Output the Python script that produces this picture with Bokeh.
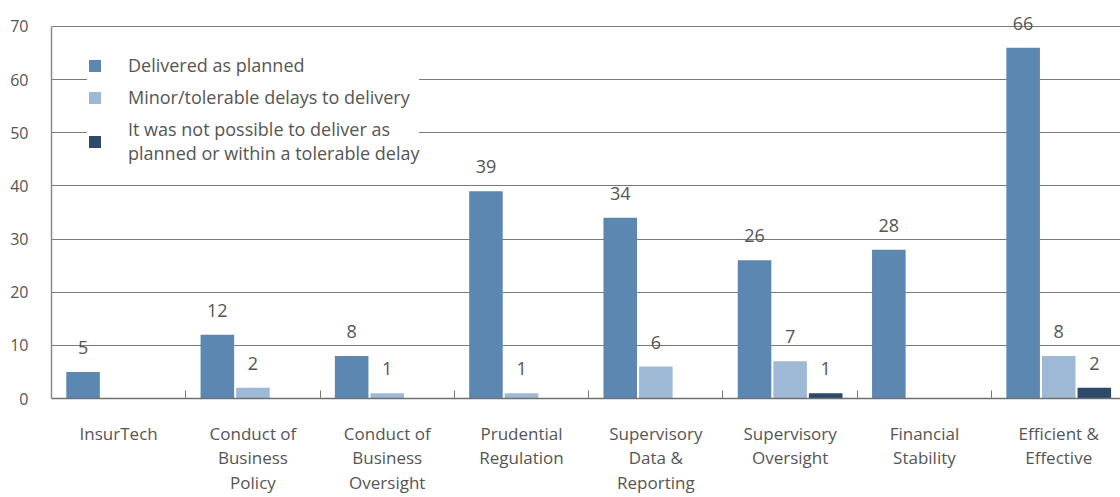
from bokeh.plotting import figure
from bokeh.models import ColumnDataSource, Range1d, FixedTicker, Legend, LegendItem, LabelSet
from bokeh.core.properties import value
from bokeh.embed import file_html
from bokeh.resources import INLINE

categories = ["InsurTech", "Conduct of\nBusiness\nPolicy", "Conduct of\nBusiness\nOversight",
              "Prudential\nRegulation", "Supervisory\nData &\nReporting", "Supervisory\nOversight",
              "Financial\nStability", "Efficient &\nEffective"]
delivered = [5, 12, 8, 39, 34, 26, 28, 66]
minor_delays = [0, 2, 1, 1, 6, 7, 0, 8]
not_possible = [0, 0, 0, 0, 0, 1, 0, 2]
series_names = ["Delivered as planned", "Minor/tolerable delays to delivery",
                "It was not possible to deliver as\nplanned or within a tolerable delay"]
y_ticks = [0, 10, 20, 30, 40, 50, 60, 70]

colors = ["#5b87b1", "#9db9d6", "#2d4a6b"]
offsets = [-0.265, 0.0, 0.265]
FONT = "Open Sans"
TXT = "#555555"

p = figure(width=1120, height=497, output_backend="svg", toolbar_location=None,
           x_range=Range1d(0, 7.96), y_range=Range1d(0, 73),
           min_border_left=51, min_border_right=0, min_border_top=10, min_border_bottom=98)
p.outline_line_color = None
p.background_fill_color = "white"

renderers = []
for vals, col, off in zip([delivered, minor_delays, not_possible], colors, offsets):
    xs = [i + 0.5 + off for i in range(len(categories))]
    src = ColumnDataSource(dict(x=xs, top=vals))
    r = p.vbar(x="x", top="top", width=0.25, bottom=0, source=src,
               fill_color=col, line_color=None)
    renderers.append(r)
    lx = [x for x, v in zip(xs, vals) if v > 0]
    ly = [v for v in vals if v > 0]
    lsrc = ColumnDataSource(dict(x=lx, y=ly, t=[str(v) for v in ly]))
    p.add_layout(LabelSet(x="x", y="y", text="t", source=lsrc, y_offset=18,
                          text_align="center", text_baseline="alphabetic",
                          text_font=value(FONT), text_font_size="18px", text_color=TXT))

# x axis
centers = [i + 0.5 for i in range(len(categories))]
bounds = [i + 1 for i in range(len(categories) - 1)]
p.xaxis.ticker = FixedTicker(ticks=centers, minor_ticks=bounds)
p.xaxis.major_label_overrides = {c: lab for c, lab in zip(centers, categories)}
p.xaxis.major_tick_line_color = None
p.xaxis.major_tick_in = 0
p.xaxis.major_tick_out = 0
p.xaxis.minor_tick_in = 8
p.xaxis.minor_tick_out = 0
p.xaxis.minor_tick_line_color = "#777777"
p.xaxis.axis_line_color = "#6f6f6f"
p.xaxis.axis_line_width = 1.3
p.xaxis.major_label_standoff = 23
p.xaxis.major_label_text_font = FONT
p.xaxis.major_label_text_font_size = "17px"
p.xaxis.major_label_text_color = TXT
p.xaxis.major_label_text_line_height = 1.08
p.xgrid.grid_line_color = None

# y axis
p.yaxis.ticker = FixedTicker(ticks=y_ticks)
p.yaxis.bounds = (0, 70)
p.yaxis.major_tick_line_color = None
p.yaxis.minor_tick_line_color = None
p.yaxis.axis_line_color = "#8a8a8a"
p.yaxis.axis_line_width = 1.5
p.yaxis.major_label_standoff = 17
p.yaxis.major_label_text_font = FONT
p.yaxis.major_label_text_font_size = "16px"
p.yaxis.major_label_text_color = TXT
p.ygrid.ticker = FixedTicker(ticks=y_ticks[1:])
p.ygrid.grid_line_color = "#7a7a7a"
p.ygrid.grid_line_width = 1

legend = Legend(items=[LegendItem(label=n, renderers=[r]) for n, r in zip(series_names, renderers)],
                location=(36, 233), orientation="vertical",
                background_fill_color="white", background_fill_alpha=1.0,
                border_line_color=None, padding=14, margin=0, spacing=8,
                glyph_width=15, glyph_height=15, label_standoff=26,
                label_text_font=FONT, label_text_font_size="18px",
                label_text_color=TXT, label_text_line_height=1.8)
p.add_layout(legend)

open("out.html", "w").write(file_html(p, INLINE))
